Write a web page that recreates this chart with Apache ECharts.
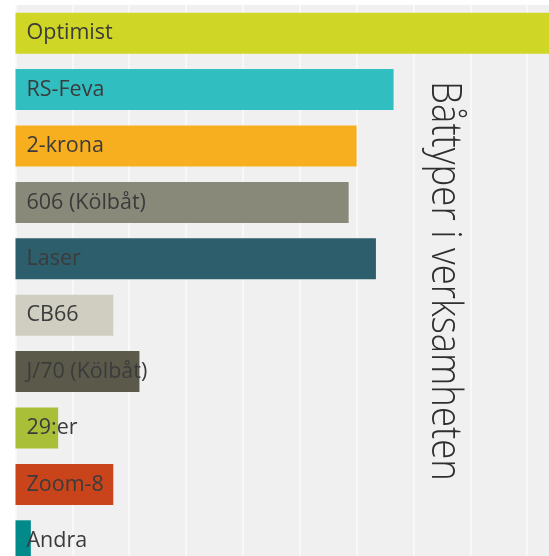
<!DOCTYPE html>
<html>
<head>
<meta charset="utf-8">
<script src="https://cdn.jsdelivr.net/npm/echarts@6/dist/echarts.min.js"></script>
<style>
    html, body { margin: 0; padding: 0; background: #fff; overflow: hidden; }
    /* the plot runs past the right and bottom edge of the picture */
    #chart { width: 584px; height: 576px; }
</style>
</head>
<body>
<div id="chart"></div>
<script>
// boat types and how many of each (one grid step = 10)
var boatTypes = ['Optimist', 'RS-Feva', '2-krona', '606 (Kölbåt)', 'Laser',
    'CB66', 'J/70 (Kölbåt)', '29:er', 'Zoom-8', 'Andra'];
var boatCounts = [100, 66.5, 60, 58.6, 63.4, 17.2, 21.8, 7.5, 17.2, 2.7];
var boatColors = ['#cfd625', '#31bec1', '#f7ae1f', '#89897a', '#2d5e6c',
    '#cfcec0', '#5b5a4a', '#a9bf37', '#c9441b', '#008a8a'];
var titleText = 'Båttyper i verksamheten';

var chart = echarts.init(document.getElementById('chart'));

chart.setOption({
    animation: false,
    grid: {
        left: 15.5,
        top: 5,
        right: 0,
        bottom: 7,
        show: true,
        backgroundColor: '#f0f0f0',
        borderWidth: 0
    },
    xAxis: {
        type: 'value',
        min: 0,
        max: 100,
        interval: 10,
        axisLine: { show: false },
        axisTick: { show: false },
        axisLabel: { show: false },
        splitLine: {
            show: true,
            lineStyle: { color: '#fbfbfb', width: 1.5 }
        }
    },
    yAxis: {
        type: 'category',
        inverse: true,
        data: boatTypes,
        axisLine: { show: false },
        axisTick: { show: false },
        axisLabel: { show: false },
        splitLine: { show: false }
    },
    series: [{
        type: 'bar',
        barWidth: 41,
        data: boatCounts.map(function (v, i) {
            return { value: v, itemStyle: { color: boatColors[i] } };
        }),
        label: {
            show: true,
            position: 'insideLeft',
            distance: 11,
            formatter: function (p) { return p.name; },
            color: '#3b3b3b',
            fontFamily: 'Open Sans',
            fontSize: 21.5
        }
    }],
    graphic: [{
        type: 'text',
        x: 444,
        y: 281,
        rotation: -Math.PI / 2,
        scaleX: 0.85,
        style: {
            text: titleText,
            fill: '#2f2f2f',
            fontFamily: 'Open Sans',
            fontWeight: 300,
            fontSize: 43,
            textAlign: 'center',
            textVerticalAlign: 'middle'
        }
    }]
});
</script>
</body>
</html>
